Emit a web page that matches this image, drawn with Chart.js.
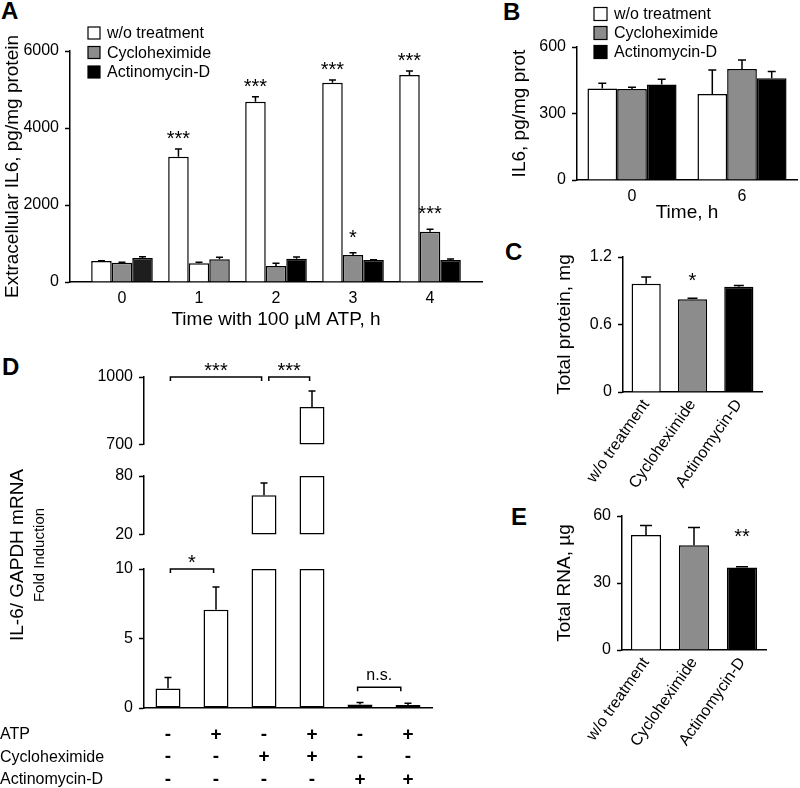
<!DOCTYPE html>
<html><head><meta charset="utf-8">
<script src="https://cdn.jsdelivr.net/npm/chart.js@4.4.1/dist/chart.umd.min.js"></script>
<style>
html,body{margin:0;padding:0;background:#fff}
body{width:800px;height:788px;position:relative;overflow:hidden;font-family:Arial,"Liberation Sans",sans-serif}
canvas{position:absolute}
.lbl{position:absolute;font-weight:bold;font-size:24px;line-height:24px;color:#000}
</style></head><body>
<div class="lbl" style="left:1px;top:-1px">A</div>
<div class="lbl" style="left:503px;top:0px">B</div>
<div class="lbl" style="left:505px;top:240px">C</div>
<div class="lbl" style="left:2px;top:355px">D</div>
<div class="lbl" style="left:511px;top:505px">E</div>
<canvas id="cA" style="left:0;top:0" width="490" height="340"></canvas>
<canvas id="cB" style="left:490px;top:0" width="310" height="230"></canvas>
<canvas id="cC" style="left:490px;top:235px" width="310" height="255"></canvas>
<canvas id="cE" style="left:490px;top:495px" width="310" height="293"></canvas>
<canvas id="cDbot" style="left:0;top:440px" width="450" height="348"></canvas>
<canvas id="cDmid" style="left:0;top:460px" width="450" height="90"></canvas>
<canvas id="cDtop" style="left:0;top:340px" width="450" height="120"></canvas>
<script>
// ---------------- DATA ----------------
const seriesNames = ['w/o treatment', 'Cycloheximide', 'Actinomycin-D'];

// Panel A
const aHours = ['0', '1', '2', '3', '4'];
const aNone = [545, 3255, 4683, 5177, 5377];
const aNoneErr = [10, 200, 130, 70, 103];
const aChx = [501, 486, 416, 701, 1307];
const aChxErr = [10, 25, 70, 60, 62];
const aAct = [623, 590, 605, 571, 571];
const aActErr = [33, 54, 44, 10, 26];
const aNoneStars = ['', '***', '***', '***', '***'];
const aChxStars = ['', '', '', '*', '***'];

// Panel B
const bHours = ['0', '6'];
const bNone = [413, 388];
const bNoneErr = [23, 108];
const bChx = [410, 501];
const bChxErr = [8, 40];
const bAct = [431, 459];
const bActErr = [23, 30];

// Panel C
const cValues = [0.963, 0.824, 0.936];
const cErr = [0.06, 0.01, 0.01];
const cStars = ['', '*', ''];

// Panel E
const eValues = [51.5, 46.9, 36.9];
const eErr = [4.3, 7.9, 0.4];
const eStars = ['', '', '**'];

// Panel D
const dValues = [1.4, 7.06, 60.2, 866, 0.25, 0.22];
const dErr = [0.8, 1.64, 12.6, 72, 0.14, 0.12];
const dCats = ['1', '2', '3', '4', '5', '6'];
const dRowNames = ['ATP', 'Cycloheximide', 'Actinomycin-D'];
const dATP = ['-', '+', '-', '+', '-', '+'];
const dChx = ['-', '-', '+', '+', '-', '-'];
const dAct = ['-', '-', '-', '-', '+', '+'];
const dSegTop = {min: 700, max: 1000, ticks: [700, 1000]};
const dSegMid = {min: 20, max: 80, ticks: [20, 80]};
const dSegBot = {min: 0, max: 10, ticks: [0, 5, 10]};
const dBracketsTop = [{from: 0.05, to: 1.95, at: 1000, text: '***'}, {from: 2.1, to: 2.95, at: 1000, text: '***'}];
const dBracketsBot = [{from: 0.05, to: 0.95, at: 10, text: '*'}, {from: 3.95, to: 4.85, at: 1.5, text: 'n.s.'}];

// ---------------- STYLE ----------------
const FONT = 'Arial, "Liberation Sans", sans-serif';
const WHITE = '#ffffff', GRAY = '#8c8c8c', BLACK = '#000000', DARK = '#1e1e1e';
Chart.defaults.font.family = FONT;
Chart.defaults.color = '#000';
Chart.defaults.animation = false;
Chart.defaults.responsive = false;
Chart.defaults.devicePixelRatio = 1;
Chart.defaults.plugins.legend.display = false;
Chart.defaults.plugins.tooltip.enabled = false;

function centerText(ctx, text, x, cy) {
  const m = ctx.measureText(text);
  ctx.textAlign = 'center';
  ctx.textBaseline = 'alphabetic';
  ctx.fillText(text, x, cy + (m.actualBoundingBoxAscent - m.actualBoundingBoxDescent) / 2);
}
const plainNum = v => String(Math.round(v * 100) / 100);

const errorBars = {
  id: 'errorBars',
  afterDatasetsDraw(chart, args, opts) {
    const ctx = chart.ctx, ys = chart.scales.y;
    chart.data.datasets.forEach((ds, di) => {
      if (!ds.vals) return;
      const meta = chart.getDatasetMeta(di);
      meta.data.forEach((el, i) => {
        const v = ds.vals[i], e = ds.errs ? ds.errs[i] : null;
        if (v == null || v < ys.min || v > ys.max) return;
        const x = el.x;
        const top = ys.getPixelForValue(v + (e || 0));
        if (e) {
          const y0 = ys.getPixelForValue(v);
          ctx.save();
          ctx.strokeStyle = '#000'; ctx.lineWidth = 1.5;
          ctx.beginPath();
          ctx.moveTo(x, y0); ctx.lineTo(x, top);
          ctx.moveTo(x - opts.cap / 2, top); ctx.lineTo(x + opts.cap / 2, top);
          ctx.stroke();
          ctx.restore();
        }
        if (ds.stars && ds.stars[i]) {
          ctx.save();
          ctx.fillStyle = '#000';
          ctx.font = '20px ' + FONT;
          centerText(ctx, ds.stars[i], x, top - ds.starGap);
          ctx.restore();
        }
      });
    });
  }
};

const boxLegend = {
  id: 'boxLegend',
  afterDraw(chart, args, o) {
    if (!o || !o.show) return;
    const ctx = chart.ctx;
    ctx.save();
    ctx.font = '16px ' + FONT;
    chart.data.datasets.forEach((ds, i) => {
      const cy = o.y + i * o.spacing;
      ctx.fillStyle = ds.legendColor;
      ctx.fillRect(o.x, cy - o.box / 2, o.box, o.box);
      ctx.strokeStyle = '#000'; ctx.lineWidth = 1.2;
      ctx.strokeRect(o.x, cy - o.box / 2, o.box, o.box);
      ctx.fillStyle = '#000';
      ctx.textAlign = 'left'; ctx.textBaseline = 'middle';
      ctx.fillText(ds.label, o.x + o.box + 7, cy + 1);
    });
    ctx.restore();
  }
};

const brackets = {
  id: 'brackets',
  afterDraw(chart, args, o) {
    if (!o || !o.items) return;
    const ctx = chart.ctx, xs = chart.scales.x, ys = chart.scales.y;
    ctx.save();
    ctx.strokeStyle = '#000'; ctx.fillStyle = '#000'; ctx.lineWidth = 1.5;
    o.items.forEach(b => {
      const x1 = xs.getPixelForValue(b.from), x2 = xs.getPixelForValue(b.to);
      const y = ys.getPixelForValue(b.at);
      ctx.beginPath();
      ctx.moveTo(x1, y + 4); ctx.lineTo(x1, y); ctx.lineTo(x2, y); ctx.lineTo(x2, y + 4);
      ctx.stroke();
      if (b.text.indexOf('*') >= 0) { ctx.font = '20px ' + FONT; centerText(ctx, b.text, (x1 + x2) / 2, y - 10); }
      else { ctx.font = '16px ' + FONT; centerText(ctx, b.text, (x1 + x2) / 2, y - 12); }
    });
    ctx.restore();
  }
};

const dTable = {
  id: 'dTable',
  afterDraw(chart, args, o) {
    if (!o || !o.show) return;
    const ctx = chart.ctx, xs = chart.scales.x;
    ctx.save();
    ctx.fillStyle = '#000';
    const rows = [dATP, dChx, dAct];
    rows.forEach((row, r) => {
      const cy = o.y0 + r * o.dy;
      ctx.font = '16px ' + FONT;
      ctx.textAlign = 'left'; ctx.textBaseline = 'middle';
      ctx.fillText(dRowNames[r], 0, cy + 2);
      ctx.font = 'bold 19px ' + FONT;
      ctx.textAlign = 'center'; ctx.textBaseline = 'alphabetic';
      row.forEach((s, i) => ctx.fillText(s, xs.getPixelForValue(i), cy + 6.5));
    });
    // y-axis titles
    ctx.translate(17.5, o.ty);
    ctx.rotate(-Math.PI / 2);
    ctx.textAlign = 'center'; ctx.textBaseline = 'middle';
    ctx.font = '19px ' + FONT;
    ctx.fillText('IL-6/ GAPDH mRNA', 0, 0);
    ctx.font = '15px ' + FONT;
    ctx.fillText('Fold Induction', 0, 22);
    ctx.restore();
  }
};

function yAxis(o) {
  const ax = {
    min: o.min, max: o.max,
    afterFit: s => { s.width = o.width; },
    ticks: {stepSize: o.step, font: {size: o.fs || 16}, color: '#000', padding: 6, callback: plainNum},
    grid: {display: true, drawOnChartArea: false, drawTicks: true, tickLength: 5, tickWidth: 1.5, tickColor: '#000'},
    border: {display: true, color: '#000', width: 1.5},
    title: o.title ? {display: true, text: o.title, font: {size: 19}, color: '#000', padding: {top: o.tpad, bottom: 0}} : {display: false}
  };
  if (o.ticksList) ax.afterBuildTicks = s => { s.ticks = o.ticksList.map(v => ({value: v})); };
  return ax;
}

function catX(o) {
  return {
    type: 'category', offset: true, display: o.display !== false,
    afterFit: s => { s.height = o.height; },
    grid: {display: false, drawTicks: false},
    border: {display: o.border !== false, color: '#000', width: 1.5},
    ticks: {display: o.ticks !== false, font: {size: o.fs || 16}, color: '#000', padding: o.pad || 7,
      minRotation: o.rot || 0, maxRotation: o.rot || 0, autoSkip: false},
    title: o.title ? {display: true, text: o.title, font: {size: 19}, color: '#000', padding: {top: 0, bottom: o.tpad}} : {display: false}
  };
}

function barDs(label, data, vals, errs, colors, legendColor, extra) {
  return Object.assign({
    label, data, vals, errs,
    backgroundColor: colors, legendColor,
    borderColor: '#000', borderWidth: 1.5,
    barPercentage: 1.0
  }, extra || {});
}

// ---------------- PANEL A ----------------
const toXY = arr => arr.map((v, i) => ({x: i, y: v}));
new Chart(document.getElementById('cA'), {
  type: 'bar',
  data: {
    datasets: [
      barDs(seriesNames[0], toXY(aNone), aNone, aNoneErr, WHITE, WHITE, {stars: aNoneStars, starGap: 14, categoryPercentage: 0.8}),
      barDs(seriesNames[1], toXY(aChx), aChx, aChxErr, [GRAY, WHITE, GRAY, GRAY, GRAY], GRAY, {stars: aChxStars, starGap: 19, categoryPercentage: 0.8}),
      barDs(seriesNames[2], toXY(aAct), aAct, aActErr, [DARK, GRAY, BLACK, BLACK, BLACK], BLACK, {categoryPercentage: 0.8})
    ]
  },
  options: {
    layout: {padding: {left: 0, top: 51, right: 8, bottom: 0}},
    scales: {
      x: {
        type: 'linear', offset: false, min: -0.675, max: 4.675,
        afterBuildTicks: s => { s.ticks = aHours.map((h, i) => ({value: i})); },
        afterFit: s => { s.height = 58; },
        grid: {display: false, drawTicks: false},
        border: {display: true, color: '#000', width: 1.5},
        ticks: {stepSize: 1, font: {size: 16}, color: '#000', padding: 7, callback: v => aHours[v]},
        title: {display: true, text: 'Time with 100 µM ATP, h', font: {size: 19}, color: '#000', padding: {top: 0, bottom: 8.6}}
      },
      y: yAxis({min: 0, max: 6000, step: 2000, width: 70, title: 'Extracellular IL6, pg/mg protein', tpad: 1.6})
    },
    plugins: {errorBars: {cap: 7}, boxLegend: {show: true, x: 88, y: 33, spacing: 19.5, box: 12}}
  },
  plugins: [errorBars, boxLegend]
});

// ---------------- PANEL B ----------------
new Chart(document.getElementById('cB'), {
  type: 'bar',
  data: {
    labels: bHours,
    datasets: [
      barDs(seriesNames[0], bNone, bNone, bNoneErr, WHITE, WHITE, {categoryPercentage: 0.81}),
      barDs(seriesNames[1], bChx, bChx, bChxErr, GRAY, GRAY, {categoryPercentage: 0.81}),
      barDs(seriesNames[2], bAct, bAct, bActErr, BLACK, BLACK, {categoryPercentage: 0.81})
    ]
  },
  options: {
    layout: {padding: {left: 0, top: 47, right: 3, bottom: 0}},
    scales: {
      x: catX({height: 50, title: 'Time, h', tpad: 5.6, pad: 7}),
      y: yAxis({min: 0, max: 600, step: 300, width: 87, title: 'IL6, pg/mg prot', tpad: 18.6})
    },
    plugins: {errorBars: {cap: 8}, boxLegend: {show: true, x: 104, y: 14, spacing: 19, box: 13}}
  },
  plugins: [errorBars, boxLegend]
});

// ---------------- PANEL C ----------------
new Chart(document.getElementById('cC'), {
  type: 'bar',
  data: {
    labels: seriesNames,
    datasets: [barDs('Total protein', cValues, cValues, cErr, [WHITE, GRAY, BLACK], WHITE, {stars: cStars, starGap: 21, categoryPercentage: 0.63})]
  },
  options: {
    layout: {padding: {left: 0, top: 22, right: 38, bottom: 0}},
    scales: {
      x: catX({height: 98, rot: 55, fs: 16, pad: 4}),
      y: yAxis({min: 0, max: 1.2, step: 0.6, width: 133, title: 'Total protein, mg', tpad: 63.6})
    },
    plugins: {errorBars: {cap: 10}}
  },
  plugins: [errorBars]
});

// ---------------- PANEL E ----------------
new Chart(document.getElementById('cE'), {
  type: 'bar',
  data: {
    labels: seriesNames,
    datasets: [barDs('Total RNA', eValues, eValues, eErr, [WHITE, GRAY, BLACK], WHITE, {stars: eStars, starGap: 34, categoryPercentage: 0.63})]
  },
  options: {
    layout: {padding: {left: 0, top: 21, right: 34, bottom: 0}},
    scales: {
      x: catX({height: 138, rot: 55, fs: 16, pad: 4}),
      y: yAxis({min: 0, max: 60, step: 30, width: 132, title: 'Total RNA, µg', tpad: 63.6})
    },
    plugins: {errorBars: {cap: 12}}
  },
  plugins: [errorBars]
});

// ---------------- PANEL D (broken axis, three segments) ----------------
function segData(seg) {
  return dValues.map(v => (v > seg.min ? [seg.min, Math.min(v, seg.max)] : null));
}
function dChart(id, seg, pad, xOpts, extraPlugins, pluginOpts) {
  return new Chart(document.getElementById(id), {
    type: 'bar',
    data: {
      labels: dCats,
      datasets: [barDs('IL-6', segData(seg), dValues, dErr, WHITE, WHITE,
        {categoryPercentage: 0.52, borderSkipped: false, clip: false})]
    },
    options: {
      layout: {padding: pad},
      scales: {
        x: xOpts,
        y: yAxis({min: seg.min, max: seg.max, width: 144, ticksList: seg.ticks})
      },
      plugins: Object.assign({errorBars: {cap: 7}}, pluginOpts)
    },
    plugins: [errorBars].concat(extraPlugins)
  });
}
dChart('cDtop', dSegTop, {left: 0, top: 37, right: 18, bottom: 9},
  catX({display: false, height: 0}), [brackets], {brackets: {items: dBracketsTop}});
dChart('cDmid', dSegMid, {left: 0, top: 16, right: 18, bottom: 6},
  catX({display: false, height: 0}), [], {});
dChart('cDbot', dSegBot, {left: 0, top: 129, right: 18, bottom: 0},
  catX({height: 80, ticks: false}), [brackets, dTable],
  {brackets: {items: dBracketsBot}, dTable: {show: true, y0: 293, dy: 22.5, ty: 115}});
</script>
</body></html>
